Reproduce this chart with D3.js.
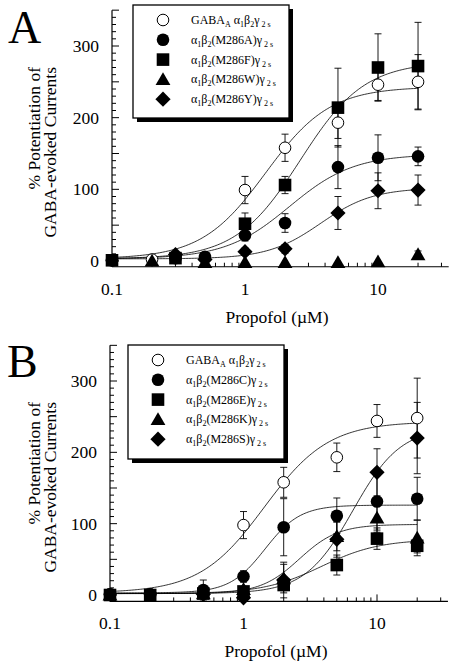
<!DOCTYPE html>
<html><head><meta charset="utf-8">
<script src="https://cdn.jsdelivr.net/npm/d3@7"></script>
<style>
body{margin:0;background:#fff}
svg{display:block}
text{font-family:"Liberation Serif","Times New Roman",serif;fill:#000}
</style>
</head><body>
<svg id="c" width="454" height="670"></svg>
<script>
// ---------- DATA ----------
const xTickLabels = ["0.1", "1", "10"];
const xTickValues = [0.1, 1, 10];
const yTickLabels = ["0", "100", "200", "300"];
const yTickValues = [0, 100, 200, 300];

// Panel A
const mutantsA = ["WT", "M286A", "M286F", "M286W", "M286Y"];
const concA = [
  [0.1, 0.2, 0.3, 1, 2, 5, 10, 20],
  [0.1, 0.3, 0.5, 1, 2, 5, 10, 20],
  [0.1, 0.3, 1, 2, 5, 10, 20],
  [0.2, 0.5, 1, 2, 5, 10, 20],
  [0.3, 0.5, 1, 2, 5, 10, 20]
];
const meanA = [
  [1, 2, 5, 99, 158, 193, 246, 250],
  [1, 4, 6, 36, 53, 131, 144, 146],
  [1, 4, 52, 106, 214, 270, 272],
  [0, -2, -2, -2, -2, -1, 9],
  [9, 2, 13, 17, 67, 98, 99]
];
const semA = [
  [0, 0, 3, 19, 19, 22, 22, 38],
  [0, 2, 4, 8, 13, 30, 32, 13],
  [0, 3, 15, 12, 55, 47, 61],
  [0, 0, 0, 0, 0, 0, 5],
  [3, 2, 5, 6, 23, 25, 21]
];
// Hill fit parameters: [bottom, top, EC50, nH]
const fitA = [
  [3, 243, 1.43, 1.8],
  [3, 149, 2.16, 1.8],
  [3, 278, 2.6, 1.8],
  null,
  [3, 102, 3.7, 2.2]
];

// Panel B
const mutantsB = ["WT", "M286C", "M286E", "M286K", "M286S"];
const concB = [
  [0.1, 0.2, 1, 2, 5, 10, 20],
  [0.1, 0.2, 0.5, 1, 2, 5, 10, 20],
  [0.1, 0.2, 0.5, 1, 2, 5, 10, 20],
  [0.1, 0.5, 1, 2, 5, 10, 20],
  [0.5, 1, 2, 5, 10, 20]
];
const meanB = [
  [1, 1, 98, 158, 193, 244, 248],
  [1, 1, 7, 26, 95, 111, 131, 135],
  [0, 0, 2, 5, 14, 42, 79, 69],
  [0, 2, 8, 23, 82, 108, 80],
  [1, -4, 21, 78, 172, 220]
];
const semB = [
  [0, 0, 19, 21, 20, 23, 56],
  [0, 0, 14, 8, 40, 25, 40, 30],
  [0, 0, 2, 4, 8, 14, 15, 10],
  [0, 2, 4, 20, 20, 20, 25],
  [2, 3, 25, 25, 33, 50]
];
const fitB = [
  [3, 243, 1.43, 1.8],
  [3, 126, 1.45, 3.3],
  [2, 78, 3.83, 2.0],
  [2, 99, 2.62, 3.0],
  [2, 235, 6.6, 2.43]
];

const markerTypes = ["open", "circle", "square", "triangle", "diamond"];

// ---------- DRAWING ----------
const svg = d3.select("#c");

function markerPath(type) {
  if (type === "square") return "M-6.3,-6.3H6.3V6.3H-6.3Z";
  if (type === "triangle") return "M0,-7.2L7.4,5.6H-7.4Z";
  if (type === "diamond") return "M0,-7.6L7.6,0L0,7.6L-7.6,0Z";
  return null;
}
function drawMarker(g, type, cx, cy) {
  if (type === "open" || type === "circle") {
    g.append("circle").attr("cx", cx).attr("cy", cy).attr("r", type === "open" ? 5.8 : 6.3)
      .attr("fill", type === "open" ? "#fff" : "#000")
      .attr("stroke", "#000").attr("stroke-width", type === "open" ? 1 : 0);
  } else {
    g.append("path").attr("d", markerPath(type))
      .attr("transform", `translate(${cx},${cy})`).attr("fill", "#000");
  }
}

function labelSegments(mut) {
  if (mut === "WT") return [["GABA", 0], ["A", 1], [" \u03B1", 0], ["1", 1], ["\u03B2", 0], ["2", 1], ["\u03B3", 0], [" 2 s", 1]];
  return [["\u03B1", 0], ["1", 1], ["\u03B2", 0], ["2", 1], ["(" + mut + ")\u03B3", 0], [" 2 s", 1]];
}

function hill(p, x) { return p[0] + (p[1] - p[0]) / (1 + Math.pow(p[2] / x, p[3])); }

function panel(opt) {
  const g = svg.append("g");
  const x = d3.scaleLog().domain([0.1, 10]).range(opt.xr);
  const y = d3.scaleLinear().domain([0, 300]).range(opt.yr);
  const yBase = y(opt.yMin), yTop = y(350);
  const xEnd = x(34);

  // axes lines
  g.append("line").attr("x1", x(0.1)).attr("x2", x(0.1)).attr("y1", yTop).attr("y2", yBase)
    .attr("stroke", "#000").attr("stroke-width", 1.2);
  g.append("line").attr("x1", x(0.1)).attr("x2", xEnd).attr("y1", yBase).attr("y2", yBase)
    .attr("stroke", "#000").attr("stroke-width", 1.2);

  // y ticks (inward)
  for (let v = 0; v <= 350; v += 10) {
    const len = v % 50 === 0 ? 7 : 4;
    g.append("line").attr("x1", x(0.1)).attr("x2", x(0.1) + len).attr("y1", y(v)).attr("y2", y(v))
      .attr("stroke", "#000").attr("stroke-width", 1);
  }
  yTickValues.forEach((v, i) => {
    g.append("text").attr("x", x(0.1) - 13).attr("y", y(v) + 6).attr("text-anchor", "end")
      .attr("font-size", 17.5).text(yTickLabels[i]);
  });
  // x ticks (inward)
  const xt = [];
  [0.1, 1, 10].forEach(d => { for (let k = 1; k <= 9; k++) xt.push(d * k); });
  xt.push(100 * 0 + 0); // placeholder removed below
  xt.filter(v => v > 0 && v <= 34).forEach(v => {
    const major = Math.abs(Math.log10(v) - Math.round(Math.log10(v))) < 1e-9;
    const len = major ? 7 : 4;
    g.append("line").attr("x1", x(v)).attr("x2", x(v)).attr("y1", yBase).attr("y2", yBase - len)
      .attr("stroke", "#000").attr("stroke-width", 1);
  });
  xTickValues.forEach((v, i) => {
    g.append("text").attr("x", x(v)).attr("y", yBase + 28).attr("text-anchor", "middle")
      .attr("font-size", 17.5).text(xTickLabels[i]);
  });
  g.append("text").attr("x", opt.xLabelX).attr("y", yBase + 56).attr("text-anchor", "middle")
    .attr("font-size", 17.5).text("Propofol (\u00B5M)");

  // y label
  g.append("text").attr("transform", `translate(40,${opt.yLabelEnd}) rotate(-90)`).attr("text-anchor", "end")
    .attr("font-size", 17.5).text("% Potentiation of");
  g.append("text").attr("transform", `translate(56,${opt.yLabelEnd}) rotate(-90)`).attr("text-anchor", "end")
    .attr("font-size", 17.5).text("GABA-evoked Currents");

  // panel letter
  g.append("text").attr("x", opt.letterX).attr("y", opt.letterY).attr("font-size", 46).text(opt.letter);

  // curves
  const line = d3.line().x(d => x(d[0])).y(d => y(d[1]));
  opt.fits.forEach(p => {
    if (!p) return;
    const pts = d3.range(0, 201).map(i => {
      const xv = Math.pow(10, -1 + i / 200 * Math.log10(200));
      return [xv, hill(p, xv)];
    });
    g.append("path").attr("d", line(pts)).attr("fill", "none").attr("stroke", "#000").attr("stroke-width", 0.8);
  });

  // error bars
  opt.conc.forEach((xs, s) => {
    xs.forEach((xv, i) => {
      const e = opt.sem[s][i];
      if (!e) return;
      const m = opt.mean[s][i], cx = x(xv);
      g.append("line").attr("x1", cx).attr("x2", cx).attr("y1", y(m + e)).attr("y2", y(m - e))
        .attr("stroke", "#000").attr("stroke-width", 0.9);
      [m + e, m - e].forEach(v => g.append("line").attr("x1", cx - 3.5).attr("x2", cx + 3.5)
        .attr("y1", y(v)).attr("y2", y(v)).attr("stroke", "#000").attr("stroke-width", 0.9));
    });
  });

  // markers
  opt.conc.forEach((xs, s) => {
    xs.forEach((xv, i) => drawMarker(g, markerTypes[s], x(xv), y(opt.mean[s][i])));
  });

  // legend
  const L = opt.legend;
  g.append("rect").attr("x", L.x + 4).attr("y", L.y + 4).attr("width", L.w).attr("height", L.h).attr("fill", "#000");
  g.append("rect").attr("x", L.x).attr("y", L.y).attr("width", L.w).attr("height", L.h)
    .attr("fill", "#fff").attr("stroke", "#000").attr("stroke-width", 1.3);
  opt.mutants.forEach((mut, i) => {
    const ry = L.y + 15 + i * 19.8;
    drawMarker(g, markerTypes[i], L.x + 30, ry);
    const t = g.append("text").attr("x", L.x + 58).attr("y", ry + 4).attr("font-size", 12);
    labelSegments(mut).forEach(([s, sub], k) => {
      const ts = t.append("tspan").text(s);
      if (sub) ts.attr("font-size", 8).attr("dy", 3);
      else if (k > 0) ts.attr("dy", -3);
    });
  });
}

panel({
  letter: "A", letterX: 8, letterY: 43,
  xr: [112, 378], yr: [261, 46], yMin: -8, xLabelX: 277, yLabelEnd: 67,
  conc: concA, mean: meanA, sem: semA, fits: fitA, mutants: mutantsA,
  legend: {x: 133, y: 5, w: 156, h: 113}
});
panel({
  letter: "B", letterX: 7, letterY: 377,
  xr: [110, 377], yr: [595, 381], yMin: -9, xLabelX: 276, yLabelEnd: 402,
  conc: concB, mean: meanB, sem: semB, fits: fitB, mutants: mutantsB,
  legend: {x: 128, y: 345, w: 156, h: 114}
});
</script>
</body></html>
